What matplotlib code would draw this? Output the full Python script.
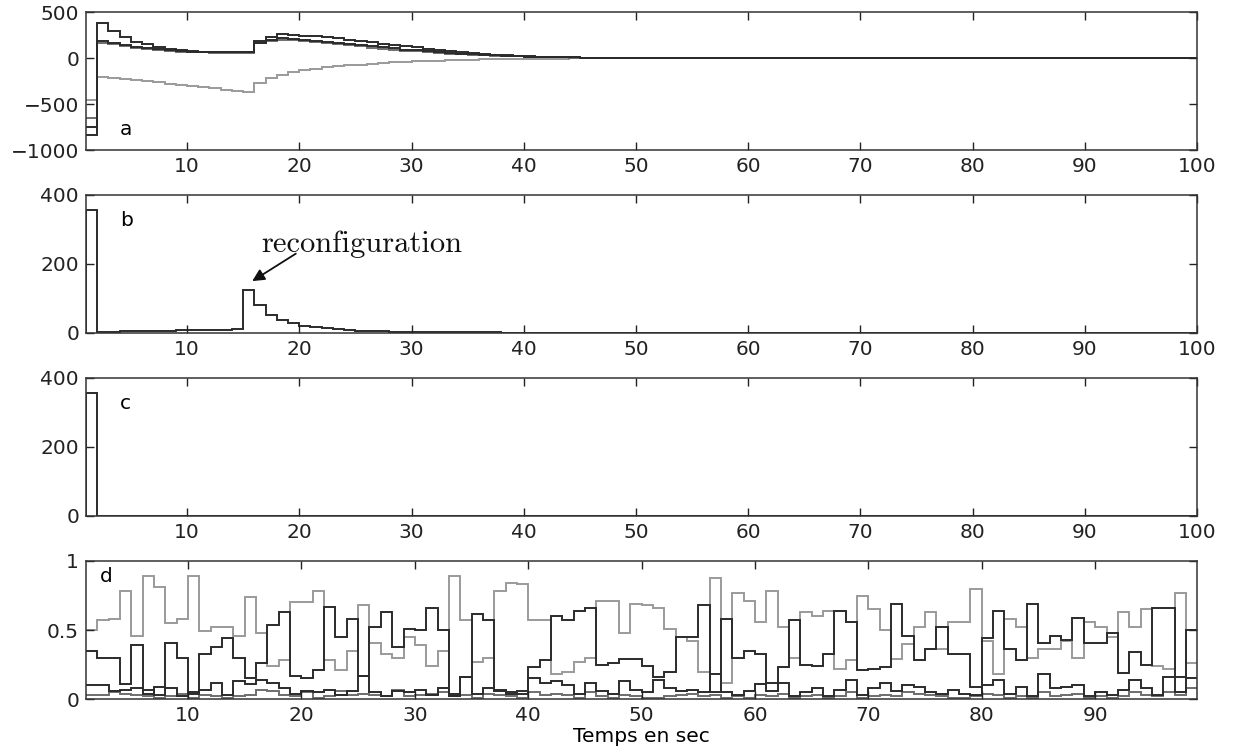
import numpy as np
import matplotlib
matplotlib.use("Agg")
import matplotlib.pyplot as plt

# ---------------- data ----------------
# panel a : four control signals (stairs, step = 1 s, from t = 1 to 100)
a_s1 = [-840, 386, 293, 232, 179, 150, 120, 100, 85, 75,
        70, 65, 63, 62, 62, 186, 232, 257, 255, 245,
        238, 228, 215, 200, 185, 170, 155, 140, 128, 115,
        100, 88, 76, 65, 55, 46, 38, 31, 25, 20,
        16, 13, 10, 8, 6, 5, 4, 3, 2, 2,
        1, 1, 1, 1, 0, 0, 0, 0, 0, 0,
        0, 0, 0, 0, 0, 0, 0, 0, 0, 0,
        0, 0, 0, 0, 0, 0, 0, 0, 0, 0,
        0, 0, 0, 0, 0, 0, 0, 0, 0, 0,
        0, 0, 0, 0, 0, 0, 0, 0, 0]
a_s2 = [-743, 180, 165, 140, 120, 105, 95, 85, 75, 70,
        66, 65, 64, 64, 64, 165, 200, 215, 210, 200,
        190, 178, 165, 152, 140, 128, 116, 104, 93, 83,
        73, 64, 56, 48, 41, 35, 30, 25, 21, 17,
        14, 11, 9, 7, 6, 5, 4, 3, 2, 2,
        1, 1, 1, 1, 0, 0, 0, 0, 0, 0,
        0, 0, 0, 0, 0, 0, 0, 0, 0, 0,
        0, 0, 0, 0, 0, 0, 0, 0, 0, 0,
        0, 0, 0, 0, 0, 0, 0, 0, 0, 0,
        0, 0, 0, 0, 0, 0, 0, 0, 0]
a_s3 = [-650, 161, 150, 130, 110, 95, 85, 78, 70, 65,
        62, 60, 60, 60, 60, 160, 185, 200, 195, 185,
        175, 163, 150, 138, 126, 114, 102, 91, 81, 72,
        63, 55, 48, 41, 35, 30, 25, 21, 18, 15,
        12, 10, 8, 6, 5, 4, 3, 2, 2, 1,
        1, 1, 1, 0, 0, 0, 0, 0, 0, 0,
        0, 0, 0, 0, 0, 0, 0, 0, 0, 0,
        0, 0, 0, 0, 0, 0, 0, 0, 0, 0,
        0, 0, 0, 0, 0, 0, 0, 0, 0, 0,
        0, 0, 0, 0, 0, 0, 0, 0, 0]
a_s4 = [-457, -205, -215, -228, -240, -252, -265, -278, -291, -304,
        -317, -330, -343, -356, -370, -270, -220, -180, -150, -130,
        -115, -100, -90, -80, -70, -62, -55, -48, -42, -37,
        -32, -28, -24, -21, -18, -15, -13, -11, -9, -8,
        -7, -6, -5, -4, -3, -3, -2, -2, -1, -1,
        -1, -1, 0, 0, 0, 0, 0, 0, 0, 0,
        0, 0, 0, 0, 0, 0, 0, 0, 0, 0,
        0, 0, 0, 0, 0, 0, 0, 0, 0, 0,
        0, 0, 0, 0, 0, 0, 0, 0, 0, 0,
        0, 0, 0, 0, 0, 0, 0, 0, 0]

# panel b : criterion with reconfiguration
b_vals = [356, 2, 3, 4, 4, 5, 5, 6, 7, 7,
          8, 9, 9, 10, 124, 80, 51, 37, 27, 20,
          16, 13, 10, 8, 6, 5, 4, 3, 3, 2,
          2, 2, 1, 1, 1, 1, 1, 0, 0, 0,
          0, 0, 0, 0, 0, 0, 0, 0, 0, 0,
          0, 0, 0, 0, 0, 0, 0, 0, 0, 0,
          0, 0, 0, 0, 0, 0, 0, 0, 0, 0,
          0, 0, 0, 0, 0, 0, 0, 0, 0, 0,
          0, 0, 0, 0, 0, 0, 0, 0, 0, 0,
          0, 0, 0, 0, 0, 0, 0, 0, 0]

# panel c : criterion without fault
c_vals = [356, 0, 0, 0, 0, 0, 0, 0, 0, 0,
          0, 0, 0, 0, 0, 0, 0, 0, 0, 0,
          0, 0, 0, 0, 0, 0, 0, 0, 0, 0,
          0, 0, 0, 0, 0, 0, 0, 0, 0, 0,
          0, 0, 0, 0, 0, 0, 0, 0, 0, 0,
          0, 0, 0, 0, 0, 0, 0, 0, 0, 0,
          0, 0, 0, 0, 0, 0, 0, 0, 0, 0,
          0, 0, 0, 0, 0, 0, 0, 0, 0, 0,
          0, 0, 0, 0, 0, 0, 0, 0, 0, 0,
          0, 0, 0, 0, 0, 0, 0, 0, 0]

# panel d : four probabilities (t = 1 .. 99)
d_gray = [0.50, 0.57, 0.58, 0.78, 0.46, 0.89, 0.81, 0.55, 0.58, 0.89,
          0.49, 0.52, 0.52, 0.46, 0.74, 0.48, 0.24, 0.28, 0.70, 0.70,
          0.78, 0.28, 0.21, 0.35, 0.68, 0.41, 0.33, 0.30, 0.45, 0.39,
          0.24, 0.35, 0.89, 0.57, 0.27, 0.30, 0.78, 0.84, 0.83, 0.57,
          0.57, 0.18, 0.20, 0.27, 0.30, 0.71, 0.71, 0.48, 0.69, 0.68,
          0.66, 0.51, 0.45, 0.42, 0.20, 0.88, 0.12, 0.77, 0.71, 0.56,
          0.78, 0.52, 0.30, 0.63, 0.60, 0.64, 0.22, 0.28, 0.75, 0.65,
          0.50, 0.29, 0.40, 0.52, 0.63, 0.36, 0.56, 0.56, 0.80, 0.42,
          0.18, 0.58, 0.52, 0.30, 0.36, 0.36, 0.42, 0.30, 0.56, 0.52,
          0.45, 0.63, 0.52, 0.65, 0.24, 0.22, 0.77, 0.26]
d_dark = [0.35, 0.30, 0.30, 0.11, 0.39, 0.04, 0.09, 0.41, 0.30, 0.04,
          0.33, 0.38, 0.44, 0.30, 0.15, 0.26, 0.54, 0.63, 0.17, 0.15,
          0.21, 0.67, 0.45, 0.58, 0.17, 0.52, 0.63, 0.38, 0.51, 0.50,
          0.66, 0.50, 0.04, 0.16, 0.62, 0.57, 0.06, 0.05, 0.06, 0.23,
          0.28, 0.60, 0.57, 0.64, 0.66, 0.25, 0.26, 0.29, 0.29, 0.24,
          0.16, 0.20, 0.45, 0.45, 0.68, 0.05, 0.58, 0.30, 0.35, 0.33,
          0.12, 0.23, 0.57, 0.25, 0.24, 0.33, 0.64, 0.56, 0.21, 0.22,
          0.23, 0.69, 0.46, 0.28, 0.36, 0.52, 0.33, 0.33, 0.09, 0.44,
          0.64, 0.36, 0.28, 0.69, 0.41, 0.46, 0.43, 0.59, 0.41, 0.41,
          0.48, 0.19, 0.34, 0.25, 0.66, 0.66, 0.16, 0.50]
d_small1 = [0.10, 0.10, 0.06, 0.07, 0.08, 0.07, 0.03, 0.08, 0.02, 0.05,
            0.07, 0.12, 0.03, 0.13, 0.11, 0.14, 0.12, 0.08, 0.04, 0.06,
            0.05, 0.07, 0.03, 0.06, 0.17, 0.05, 0.02, 0.06, 0.05, 0.07,
            0.03, 0.08, 0.02, 0.16, 0.04, 0.08, 0.07, 0.04, 0.04, 0.15,
            0.12, 0.13, 0.10, 0.04, 0.12, 0.06, 0.04, 0.13, 0.07, 0.05,
            0.14, 0.08, 0.06, 0.07, 0.05, 0.18, 0.05, 0.03, 0.06, 0.11,
            0.06, 0.12, 0.02, 0.05, 0.08, 0.02, 0.07, 0.14, 0.03, 0.08,
            0.12, 0.06, 0.10, 0.09, 0.05, 0.04, 0.07, 0.04, 0.03, 0.10,
            0.14, 0.04, 0.09, 0.02, 0.18, 0.08, 0.09, 0.10, 0.02, 0.05,
            0.03, 0.07, 0.14, 0.08, 0.03, 0.16, 0.05, 0.15]
d_small2 = [0.03, 0.03, 0.05, 0.04, 0.03, 0.02, 0.01, 0.02, 0.04, 0.01,
            0.03, 0.02, 0.01, 0.02, 0.03, 0.07, 0.06, 0.03, 0.02, 0.05,
            0.01, 0.02, 0.06, 0.03, 0.04, 0.03, 0.02, 0.07, 0.02, 0.03,
            0.04, 0.05, 0.02, 0.03, 0.01, 0.04, 0.03, 0.02, 0.01, 0.05,
            0.03, 0.04, 0.03, 0.01, 0.05, 0.02, 0.01, 0.03, 0.02, 0.01,
            0.01, 0.02, 0.03, 0.04, 0.02, 0.03, 0.01, 0.02, 0.01, 0.03,
            0.02, 0.04, 0.01, 0.02, 0.03, 0.01, 0.02, 0.05, 0.01, 0.02,
            0.03, 0.02, 0.05, 0.04, 0.03, 0.02, 0.01, 0.01, 0.02, 0.04,
            0.03, 0.01, 0.02, 0.01, 0.05, 0.02, 0.03, 0.04, 0.01, 0.02,
            0.01, 0.02, 0.05, 0.03, 0.02, 0.05, 0.03, 0.08]

xticks_abc = [10, 20, 30, 40, 50, 60, 70, 80, 90, 100]
xticks_d = [10, 20, 30, 40, 50, 60, 70, 80, 90]
panel_labels = ["a", "b", "c", "d"]
xlabel_text = "Temps en sec"
annot_text = "reconfiguration"

# ---------------- style ----------------
plt.rcParams["font.family"] = ["DejaVu Sans"]
FS = 14.5
plt.rcParams["font.size"] = FS
DARK = "#2b2b2b"
MID = "#6e6e6e"
LIGHT = "#9a9a9a"

fig = plt.figure(figsize=(12.34, 7.51), dpi=100)
left, width = 0.0697, 0.9005
bottoms = [0.800, 0.557, 0.313, 0.069]
height = 0.184
axes = [fig.add_axes([left, b, width, height]) for b in bottoms]


def edges_for(vals):
    return np.arange(1, len(vals) + 2)


def style(ax, xlim, ylim, xt, yt, ytl):
    ax.set_xlim(*xlim)
    ax.set_ylim(*ylim)
    ax.set_xticks(xt)
    ax.set_xticklabels([str(v) for v in xt])
    ax.set_yticks(yt)
    ax.set_yticklabels(ytl)
    ax.tick_params(direction="in", length=6, width=1, top=True, right=True,
                   labelsize=FS, colors="#222222", pad=5)
    for s in ax.spines.values():
        s.set_color("#333333")
        s.set_linewidth(1.1)


lw = 1.4
ax = axes[0]
ax.stairs(a_s4, edges_for(a_s4), color=LIGHT, lw=lw, baseline=None)
ax.stairs(a_s3, edges_for(a_s3), color=MID, lw=lw, baseline=None)
ax.stairs(a_s2, edges_for(a_s2), color=DARK, lw=lw, baseline=None)
ax.stairs(a_s1, edges_for(a_s1), color=DARK, lw=lw, baseline=None)
style(ax, (1, 100), (-1000, 500), xticks_abc, [-1000, -500, 0, 500],
      ["\u22121000", "\u2212500", "0", "500"])
ax.text(4.0, -770, panel_labels[0], fontsize=FS, va="center")

ax = axes[1]
ax.stairs(b_vals, edges_for(b_vals), color=DARK, lw=lw, baseline=0)
style(ax, (1, 100), (0, 400), xticks_abc, [0, 200, 400], ["0", "200", "400"])
ax.text(4.0, 325, panel_labels[1], fontsize=FS, va="center")
ax.annotate("", xy=(15.6, 145), xytext=(19.9, 233),
            arrowprops=dict(arrowstyle="-|>", color="#111111", lw=1.3,
                            mutation_scale=18))
ax.text(16.6, 234, annot_text, fontsize=22, fontname="cmr10",
        va="baseline", ha="left", color="#111111")

ax = axes[2]
ax.stairs(c_vals, edges_for(c_vals), color=DARK, lw=lw, baseline=0)
style(ax, (1, 100), (0, 400), xticks_abc, [0, 200, 400], ["0", "200", "400"])
ax.text(4.0, 325, panel_labels[2], fontsize=FS, va="center")

ax = axes[3]
ax.stairs(d_small2, edges_for(d_small2), color=MID, lw=lw, baseline=None)
ax.stairs(d_small1, edges_for(d_small1), color=DARK, lw=lw, baseline=None)
ax.stairs(d_gray, edges_for(d_gray), color=LIGHT, lw=lw, baseline=None)
ax.stairs(d_dark, edges_for(d_dark), color=DARK, lw=lw, baseline=None)
style(ax, (1, 99), (0, 1), xticks_d, [0, 0.5, 1], ["0", "0.5", "1"])
ax.text(2.2, 0.89, panel_labels[3], fontsize=FS, va="center")
ax.set_xlabel(xlabel_text, fontsize=FS, labelpad=1)

fig.savefig("out.png", dpi=100)
